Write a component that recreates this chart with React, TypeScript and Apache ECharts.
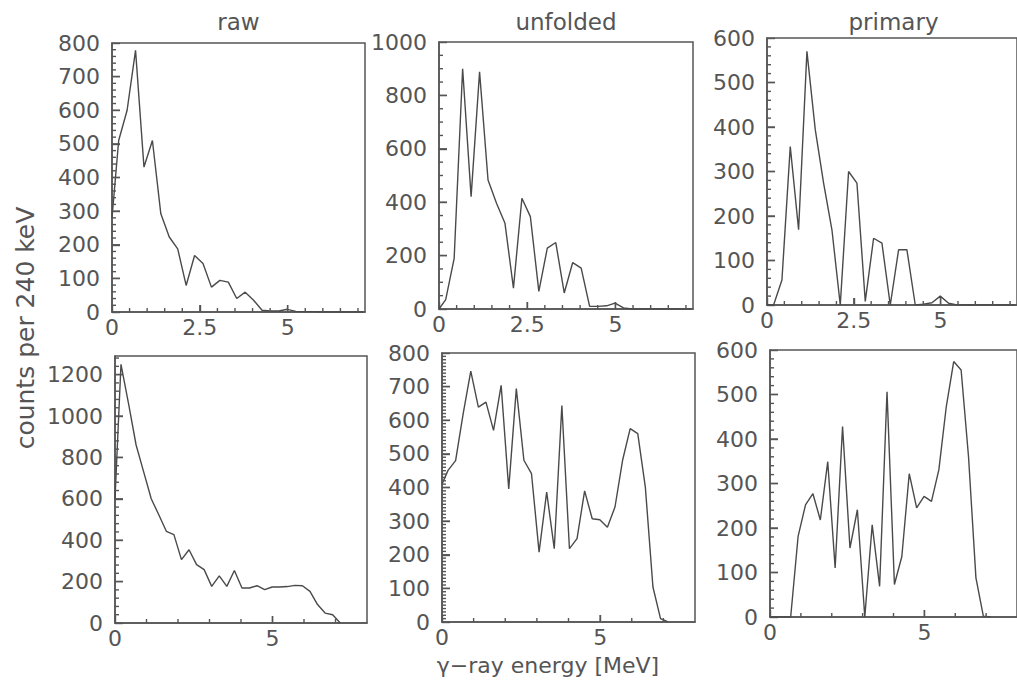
import React, { useEffect, useRef } from "react";
import * as echarts from "echarts";

// energy grid (MeV) of the 240 keV bins as plotted
const energy = [0, 0.19, 0.43, 0.67, 0.91, 1.15, 1.39, 1.63, 1.87, 2.11, 2.35, 2.59, 2.83, 3.07, 3.31, 3.55, 3.79, 4.03, 4.27, 4.51, 4.75, 4.99, 5.23, 5.47, 5.71, 5.95, 6.19, 6.43, 6.67, 6.91, 7.15];

// top row
const rawTop = [280, 510, 600, 778, 431, 510, 292, 223, 188, 79, 168, 144, 74, 94, 89, 40, 59, 35, 5, 3, 3, 8, 2, 1, 1, 0, 0, 0, 0, 0, 0];
const unfoldedTop = [0, 35, 190, 900, 421, 888, 483, 396, 321, 78, 415, 346, 66, 228, 249, 60, 174, 153, 10, 10, 12, 22, 4, 0, 0, 0, 0, 0, 0, 0, 0];
const primaryTop = [0, 0, 56, 356, 169, 570, 394, 274, 169, 0, 300, 274, 8, 150, 139, 0, 124, 124, 0, 2, 5, 20, 4, 0, 0, 0, 0, 0, 0, 0, 0];

// bottom row
const rawBottom = [600, 1250, 1060, 860, 730, 600, 523, 443, 427, 306, 354, 282, 258, 177, 228, 177, 254, 169, 169, 180, 161, 174, 174, 176, 182, 180, 153, 89, 48, 40, 0];
const unfoldedBottom = [410, 451, 480, 620, 746, 639, 654, 570, 704, 396, 694, 481, 441, 208, 386, 218, 644, 218, 248, 390, 307, 304, 282, 342, 481, 575, 560, 401, 104, 10, 0];
const primaryBottom = [0, 0, 0, 0, 181, 252, 277, 218, 349, 110, 428, 155, 241, 0, 207, 69, 506, 73, 136, 322, 245, 271, 260, 331, 473, 574, 555, 360, 88, 2, 0];

const columnTitles = ["raw", "unfolded", "primary"];
const yAxisTitle = "counts per 240 keV";
const xAxisTitle = "\u03b3\u2212ray energy [MeV]";

// axis ranges: [xMax, xMajor, xMinor, yMax, yMajor, yMinor]
const axisRanges = [
  [7.2, 2.5, 0.5, 800, 100, 20],
  [7.2, 2.5, 0.5, 1000, 200, 50],
  [7.2, 2.5, 0.5, 600, 100, 20],
  [8, 5, 1, 1290, 200, 40],
  [8, 5, 1, 800, 100, 10],
  [8, 5, 1, 600, 100, 20],
];

const seriesValues = [rawTop, unfoldedTop, primaryTop, rawBottom, unfoldedBottom, primaryBottom];

// layout (pixels)
const gridBoxes = [
  { left: 112, top: 43, width: 253, height: 269 },
  { left: 439, top: 42, width: 254, height: 267 },
  { left: 767, top: 38, width: 253, height: 267 },
  { left: 115, top: 356, width: 252, height: 267 },
  { left: 442, top: 353, width: 253, height: 269 },
  { left: 770, top: 350, width: 253, height: 267 },
];

const FONT = "DejaVu Sans";
const TEXT = "#555";
const FRAME = "#555";
const LINE = "#4a4a4a";
const X_MAJOR_LEN = 7;
const Y_MAJOR_LEN = 8;
const MINOR_LEN = 4;
const TICK_W = 1.4;

// tick values along an axis (excluding 0 and the axis end)
function tickValues(max: number, step: number, majorStep: number, wantMajor: boolean) {
  const out: number[] = [];
  const n = Math.floor(max / step + 1e-9);
  for (let k = 1; k <= n; k++) {
    const v = +(k * step).toFixed(6);
    if (v >= max - 1e-9) continue;
    const isMajor = Math.abs(v / majorStep - Math.round(v / majorStep)) < 1e-6;
    if (isMajor === wantMajor) out.push(v);
  }
  return out;
}

const textStyle = (t: string, size: number) => ({
  text: t,
  fill: TEXT,
  fontSize: size,
  fontFamily: FONT,
  align: "center",
  verticalAlign: "middle",
  textAlign: "center",
  textVerticalAlign: "middle",
});

function textGraphics() {
  const graphic: any[] = [];
  columnTitles.forEach((t, c) => {
    const b = gridBoxes[c];
    graphic.push({ type: "text", x: b.left + b.width / 2, y: 22, style: textStyle(t, 23) });
  });
  graphic.push({ type: "text", x: 25, y: 328, rotation: Math.PI / 2, style: textStyle(yAxisTitle, 25) });
  graphic.push({ type: "text", x: 548, y: 665, style: textStyle(xAxisTitle, 22) });
  return graphic;
}

function tickSeries(i: number, values: number[], onX: boolean, len: number) {
  return {
    type: "scatter",
    xAxisIndex: i,
    yAxisIndex: i,
    silent: true,
    clip: false,
    z: 4,
    symbol: "rect",
    symbolSize: onX ? [TICK_W, len] : [len, TICK_W],
    symbolOffset: onX ? [0, -len / 2] : [len / 2, 0],
    itemStyle: { color: FRAME, opacity: 1, borderWidth: 0 },
    emphasis: { disabled: true },
    data: values.map((v) => (onX ? [v, 0] : [0, v])),
  };
}

function buildOption() {
  const grid: any[] = [];
  const xAxis: any[] = [];
  const yAxis: any[] = [];
  const series: any[] = [];

  gridBoxes.forEach((b, i) => {
    const [xMax, xMajor, xMinor, yMax, yMajor, yMinor] = axisRanges[i];
    grid.push({ ...b, show: true, borderColor: FRAME, borderWidth: 1.5, backgroundColor: "transparent" });
    xAxis.push({
      type: "value", gridIndex: i, min: 0, max: xMax, interval: xMajor, position: "bottom",
      axisLine: { show: true, onZero: false, lineStyle: { color: FRAME, width: 1.5 } },
      axisTick: { show: true, inside: true, length: X_MAJOR_LEN, lineStyle: { color: FRAME, width: TICK_W } },
      axisLabel: { show: true, margin: 4, color: TEXT, fontSize: 22, fontFamily: FONT, showMaxLabel: false, showMinLabel: true, formatter: (v: number) => String(v) },
      splitLine: { show: false },
    });
    yAxis.push({
      type: "value", gridIndex: i, min: 0, max: yMax, interval: yMajor, position: "left",
      axisLine: { show: true, onZero: false, lineStyle: { color: FRAME, width: 1.5 } },
      axisTick: { show: true, inside: true, length: Y_MAJOR_LEN, lineStyle: { color: FRAME, width: TICK_W } },
      axisLabel: { show: true, margin: 12, color: TEXT, fontSize: 22, fontFamily: FONT, showMaxLabel: yMax % yMajor === 0, showMinLabel: true, formatter: (v: number) => String(v) },
      splitLine: { show: false },
    });
    series.push({
      type: "line",
      xAxisIndex: i,
      yAxisIndex: i,
      data: energy.map((e, k) => [e, seriesValues[i][k]]),
      symbol: "none",
      showSymbol: false,
      lineStyle: { color: LINE, width: 1.4 },
      clip: true,
      z: 2,
    });
    series.push(tickSeries(i, tickValues(xMax, xMinor, xMajor, true), true, X_MAJOR_LEN));
    series.push(tickSeries(i, tickValues(xMax, xMinor, xMajor, false), true, MINOR_LEN));
    series.push(tickSeries(i, tickValues(yMax, yMinor, yMajor, true), false, Y_MAJOR_LEN));
    series.push(tickSeries(i, tickValues(yMax, yMinor, yMajor, false), false, MINOR_LEN));
  });

  return {
    animation: false,
    backgroundColor: "#ffffff",
    grid,
    xAxis,
    yAxis,
    series,
    graphic: textGraphics(),
  };
}

export default function App() {
  const ref = useRef<HTMLDivElement>(null);
  useEffect(() => {
    if (!ref.current) return;
    const chart = echarts.init(ref.current, null, { renderer: "svg" });
    chart.setOption(buildOption() as any);
    return () => chart.dispose();
  }, []);
  return (
    <div
      ref={ref}
      style={{ position: "fixed", left: 0, top: 0, width: 1017, height: 682, background: "#fff" }}
    />
  );
}
